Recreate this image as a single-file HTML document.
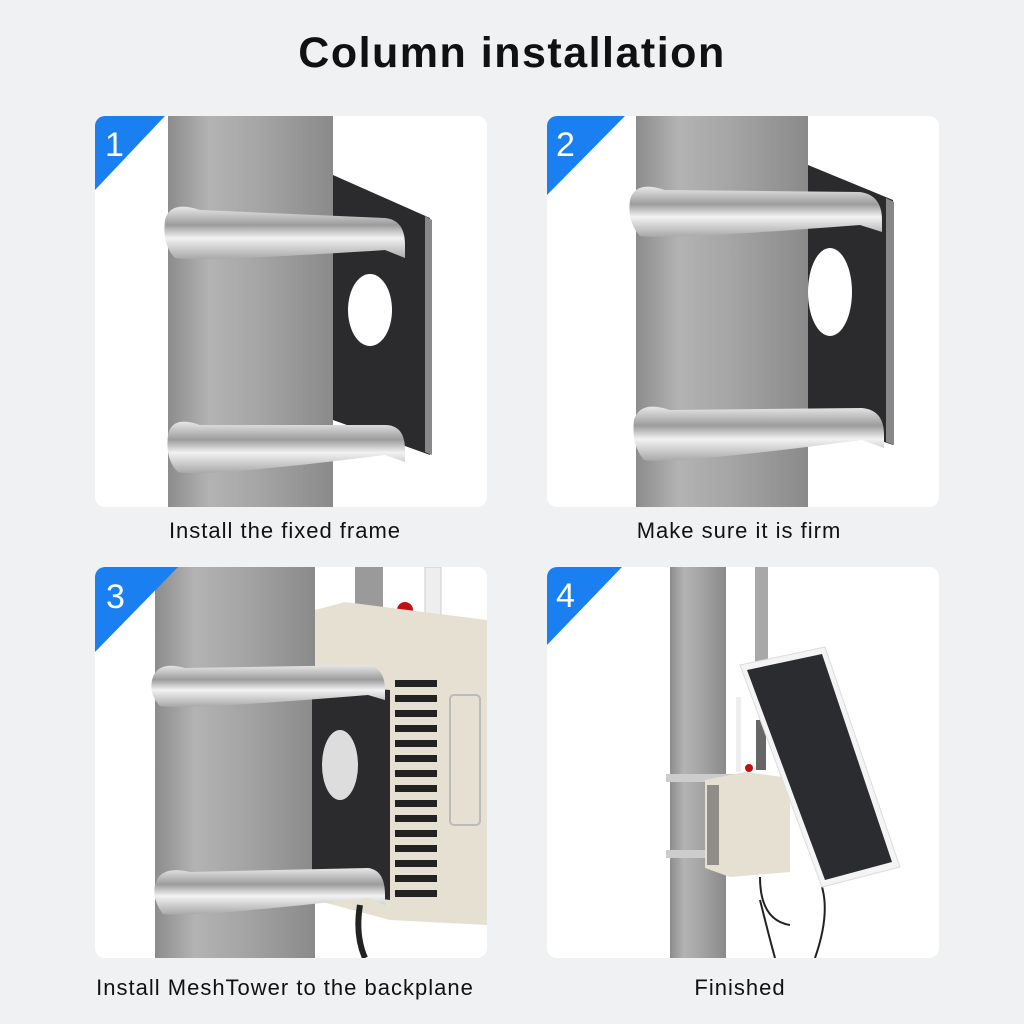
<!DOCTYPE html>
<html><head><meta charset="utf-8"><style>
html,body{margin:0;padding:0;background:#f0f1f3;}
svg{display:block}
</style></head><body>
<svg width="1024" height="1024" viewBox="0 0 1024 1024" xmlns="http://www.w3.org/2000/svg" font-family="Liberation Sans, sans-serif">
<defs>
<linearGradient id="pole" x1="0" x2="1" y1="0" y2="0">
<stop offset="0" stop-color="#8c8c8c"/><stop offset="0.25" stop-color="#b3b3b3"/><stop offset="0.55" stop-color="#a5a5a5"/><stop offset="1" stop-color="#8a8a8a"/></linearGradient>
<linearGradient id="strap" x1="0" x2="0" y1="0" y2="1">
<stop offset="0" stop-color="#e8e8e8"/><stop offset="0.35" stop-color="#9c9c9c"/><stop offset="0.6" stop-color="#f2f2f2"/><stop offset="1" stop-color="#a8a8a8"/></linearGradient>
<clipPath id="c1"><rect x="95" y="116" width="392" height="391" rx="10"/></clipPath>
<clipPath id="c2"><rect x="547" y="116" width="392" height="391" rx="10"/></clipPath>
<clipPath id="c3"><rect x="95" y="567" width="392" height="391" rx="10"/></clipPath>
<clipPath id="c4"><rect x="547" y="567" width="392" height="391" rx="10"/></clipPath>
</defs>
<text x="512" y="67" text-anchor="middle" font-size="43" font-weight="bold" letter-spacing="1.5" fill="#111">Column installation</text>

<!-- Panel 1 -->
<g clip-path="url(#c1)">
<rect x="95" y="116" width="392" height="391" fill="#fff"/>
<rect x="168" y="116" width="165" height="391" fill="url(#pole)"/>
<polygon points="333,175 430,218 430,455 333,420" fill="#2b2b2d"/>
<polygon points="425,216 432,220 432,455 425,452" fill="#888"/>
<ellipse cx="370" cy="310" rx="22" ry="36" fill="#fff"/>
<path d="M165,220 Q170,200 200,210 L385,218 Q405,220 405,245 L405,258 L385,250 Q200,262 175,258 Q162,245 165,220Z" fill="url(#strap)"/>
<path d="M168,435 Q172,415 200,425 L385,425 Q405,425 405,450 L405,462 L385,455 Q200,478 178,472 Q165,460 168,435Z" fill="url(#strap)"/>
<polygon points="95,116 165,116 95,190" fill="#1a7ff0"/>
<text x="105" y="156" font-size="34" fill="#fff">1</text>
</g>

<!-- Panel 2 -->
<g clip-path="url(#c2)">
<rect x="547" y="116" width="392" height="391" fill="#fff"/>
<rect x="636" y="116" width="172" height="391" fill="url(#pole)"/>
<polygon points="808,165 893,200 893,445 808,415" fill="#2b2b2d"/>
<polygon points="886,198 894,202 894,445 886,442" fill="#888"/>
<ellipse cx="830" cy="292" rx="22" ry="44" fill="#fff"/>
<path d="M630,200 Q635,180 665,190 L860,192 Q882,195 882,220 L882,232 L860,225 Q665,240 640,236 Q627,222 630,200Z" fill="url(#strap)"/>
<path d="M634,420 Q640,400 670,410 L862,408 Q884,410 884,435 L884,448 L862,440 Q670,465 644,460 Q631,445 634,420Z" fill="url(#strap)"/>
<polygon points="547,116 625,116 547,195" fill="#1a7ff0"/>
<text x="556" y="156" font-size="34" fill="#fff">2</text>
</g>

<!-- Panel 3 -->
<g clip-path="url(#c3)">
<rect x="95" y="567" width="392" height="391" fill="#fff"/>
<rect x="155" y="567" width="160" height="391" fill="url(#pole)"/>
<rect x="355" y="567" width="28" height="50" fill="#9a9a9a"/>
<rect x="425" y="567" width="16" height="75" fill="#eee" stroke="#ccc"/>
<circle cx="405" cy="610" r="8" fill="#c21010"/>
<polygon points="315,610 345,602 487,620 487,925 390,920 315,900" fill="#e6e0d3"/>
<g fill="#222">
<rect x="395" y="680" width="42" height="7"/><rect x="395" y="695" width="42" height="7"/><rect x="395" y="710" width="42" height="7"/><rect x="395" y="725" width="42" height="7"/><rect x="395" y="740" width="42" height="7"/><rect x="395" y="755" width="42" height="7"/><rect x="395" y="770" width="42" height="7"/><rect x="395" y="785" width="42" height="7"/><rect x="395" y="800" width="42" height="7"/><rect x="395" y="815" width="42" height="7"/><rect x="395" y="830" width="42" height="7"/><rect x="395" y="845" width="42" height="7"/><rect x="395" y="860" width="42" height="7"/><rect x="395" y="875" width="42" height="7"/><rect x="395" y="890" width="42" height="7"/>
</g>
<rect x="450" y="695" width="30" height="130" rx="4" fill="none" stroke="#bbb" stroke-width="2"/>
<polygon points="312,685 390,690 390,900 312,890" fill="#2b2b2d"/>
<ellipse cx="340" cy="765" rx="18" ry="35" fill="#ddd"/>
<path d="M152,680 Q157,660 185,668 L368,665 Q385,668 385,690 L385,700 L368,695 Q185,710 160,706 Q149,695 152,680Z" fill="url(#strap)"/>
<path d="M155,885 Q160,865 190,872 L368,868 Q385,870 385,895 L385,905 L368,898 Q190,918 163,914 Q152,900 155,885Z" fill="url(#strap)"/>
<path d="M360,905 Q355,935 365,958" stroke="#222" stroke-width="6" fill="none"/>
<polygon points="95,567 178,567 95,652" fill="#1a7ff0"/>
<text x="106" y="608" font-size="34" fill="#fff">3</text>
</g>

<!-- Panel 4 -->
<g clip-path="url(#c4)">
<rect x="547" y="567" width="392" height="391" fill="#fff"/>
<rect x="670" y="567" width="56" height="391" fill="url(#pole)"/>
<rect x="755" y="567" width="13" height="140" fill="#a8a8a8"/>
<rect x="666" y="774" width="70" height="8" fill="#ccc"/>
<rect x="666" y="850" width="70" height="8" fill="#ccc"/>
<rect x="736" y="697" width="5" height="75" fill="#eee"/>
<rect x="756" y="720" width="10" height="50" fill="#666"/>
<circle cx="749" cy="768" r="4" fill="#c21010"/>
<polygon points="705,780 745,772 790,778 790,872 730,877 705,868" fill="#e6e0d3"/>
<rect x="707" y="785" width="12" height="80" fill="#555" opacity="0.6"/>
<path d="M760,877 Q760,920 790,925 M822,887 Q830,915 815,958 M760,900 Q770,940 775,958" stroke="#222" stroke-width="2" fill="none"/>
<polygon points="740,665 825,647 900,867 822,887" fill="#f4f4f4" stroke="#ddd"/>
<polygon points="747,670 822,654 892,862 825,880" fill="#2a2c30"/>
<polygon points="547,567 622,567 547,645" fill="#1a7ff0"/>
<text x="556" y="607" font-size="34" fill="#fff">4</text>
</g>

<g font-size="22" fill="#111" text-anchor="middle" letter-spacing="1">
<text x="285" y="538">Install the fixed frame</text>
<text x="739" y="538">Make sure it is firm</text>
<text x="285" y="995">Install MeshTower to the backplane</text>
<text x="740" y="995">Finished</text>
</g>
</svg>
</body></html>
